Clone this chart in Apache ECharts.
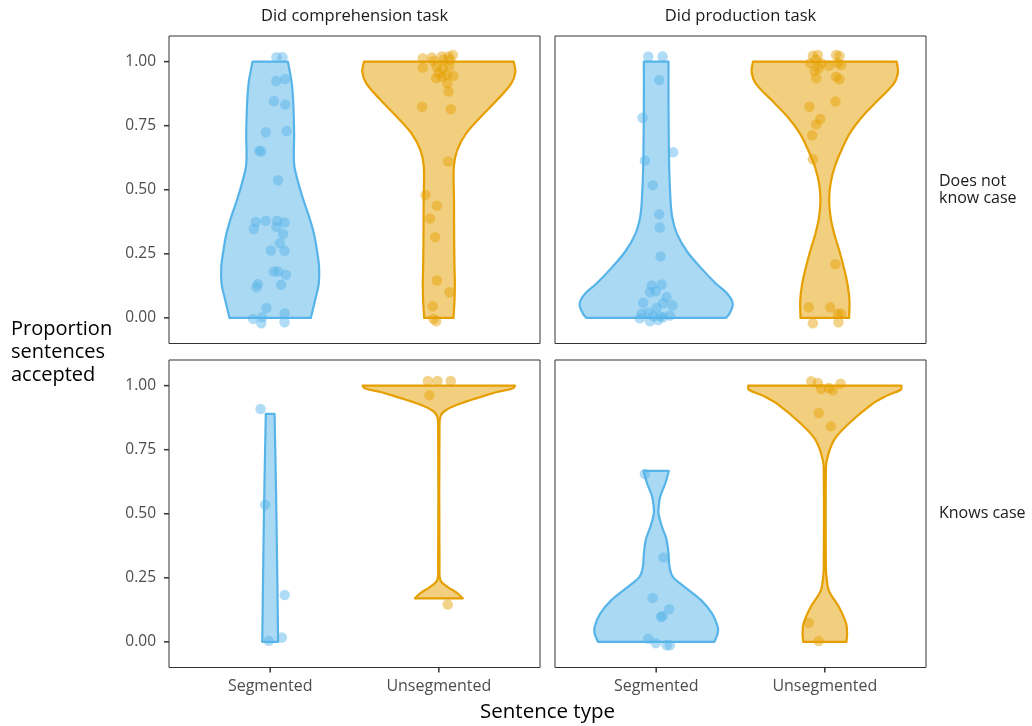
<!DOCTYPE html>
<html>
<head>
<meta charset="utf-8">
<script src="https://cdn.jsdelivr.net/npm/echarts@6/dist/echarts.min.js"></script>
<style>
  html, body { margin: 0; padding: 0; background: #ffffff; }
  #chart { width: 1032px; height: 726px; }
</style>
</head>
<body>
<div id="chart"></div>
<script>
// ---------------- DATA ----------------
const categories = ['Segmented', 'Unsegmented'];
const categoryPositions = [1, 2];
const yTicks = [0, 0.25, 0.5, 0.75, 1];
const columnLabels = ['Did comprehension task', 'Did production task'];
const rowLabels = ['Does not\nknow case', 'Knows case'];
const xTitle = 'Sentence type';
const yTitle = 'Proportion\nsentences\naccepted';

// Violin outlines: [proportion, half-width in category units]
const violinCompNoCaseSeg = [[1.00,0.105],[0.92,0.127],[0.85,0.136],[0.72,0.142],[0.60,0.142],[0.524,0.168],[0.46,0.197],[0.394,0.231],[0.33,0.259],[0.26,0.278],[0.198,0.290],[0.133,0.288],[0.068,0.266],[0.00,0.241]];
const violinCompNoCaseUnseg = [[1.00,0.444],[0.96,0.454],[0.915,0.430],[0.85,0.345],[0.785,0.249],[0.72,0.162],[0.655,0.109],[0.59,0.089],[0.46,0.090],[0.30,0.091],[0.198,0.093],[0.133,0.095],[0.068,0.093],[0.00,0.087]];
const violinProdNoCaseSeg = [[1.00,0.073],[0.85,0.073],[0.59,0.077],[0.46,0.085],[0.394,0.095],[0.33,0.122],[0.26,0.182],[0.198,0.261],[0.133,0.355],[0.094,0.422],[0.055,0.454],[0.016,0.434],[0.00,0.414]];
const violinProdNoCaseUnseg = [[1.00,0.426],[0.96,0.434],[0.915,0.410],[0.85,0.316],[0.785,0.221],[0.72,0.148],[0.655,0.099],[0.59,0.059],[0.524,0.034],[0.46,0.026],[0.394,0.034],[0.33,0.055],[0.26,0.087],[0.198,0.112],[0.133,0.134],[0.068,0.146],[0.00,0.144]];
const violinCompCaseSeg = [[0.89,0.026],[0.50,0.037],[0.00,0.047]];
const violinCompCaseUnseg = [[1.00,0.452],[0.99,0.440],[0.975,0.345],[0.96,0.268],[0.926,0.111],[0.90,0.032],[0.88,0.010],[0.85,0.004],[0.30,0.004],[0.24,0.010],[0.215,0.051],[0.19,0.109],[0.17,0.142]];
const violinProdCaseSeg = [[0.667,0.075],[0.62,0.055],[0.567,0.024],[0.528,0.015],[0.50,0.014],[0.45,0.034],[0.40,0.061],[0.345,0.073],[0.293,0.079],[0.254,0.099],[0.215,0.168],[0.163,0.266],[0.11,0.332],[0.059,0.365],[0.033,0.365],[0.00,0.345]];
const violinProdCaseUnseg = [[1.00,0.454],[0.985,0.452],[0.96,0.365],[0.93,0.284],[0.854,0.146],[0.79,0.057],[0.71,0.012],[0.65,0.006],[0.30,0.006],[0.267,0.008],[0.20,0.024],[0.137,0.083],[0.072,0.126],[0.033,0.132],[0.00,0.128]];

// Jittered participant points: [jittered category position, proportion]
const pointsCompNoCaseSeg = [[1.037,1.017],[1.073,1.017],[1.036,0.924],[1.089,0.932],[1.022,0.846],[1.089,0.833],[0.974,0.724],[1.097,0.729],[0.935,0.652],[0.947,0.649],[1.047,0.537],[0.915,0.374],[0.974,0.379],[1.041,0.379],[1.085,0.372],[0.903,0.347],[1.037,0.355],[1.077,0.327],[1.057,0.291],[1.004,0.263],[1.085,0.262],[1.022,0.181],[1.047,0.181],[1.093,0.168],[0.927,0.132],[0.919,0.120],[1.065,0.129],[0.978,0.039],[1.086,0.018],[0.899,-0.004],[0.953,0.002],[0.947,-0.021],[1.085,-0.017]];
const pointsCompNoCaseUnseg = [[1.905,1.013],[1.959,1.016],[2.018,1.020],[2.057,1.020],[2.083,1.026],[1.968,1.003],[2.027,1.007],[2.067,1.007],[1.905,0.977],[1.988,0.980],[2.024,0.974],[2.063,0.984],[1.984,0.935],[2.018,0.941],[2.047,0.948],[2.086,0.945],[1.998,0.955],[2.051,0.915],[2.057,0.883],[1.901,0.824],[2.071,0.814],[2.055,0.610],[1.921,0.480],[1.988,0.438],[1.948,0.388],[1.978,0.315],[1.988,0.146],[2.063,0.100],[1.964,0.045],[1.968,-0.004],[1.984,-0.013]];
const pointsProdNoCaseSeg = [[0.953,1.020],[1.038,1.020],[1.018,0.928],[0.919,0.781],[1.101,0.646],[0.933,0.614],[0.979,0.518],[1.018,0.404],[1.022,0.353],[1.026,0.240],[0.973,0.126],[1.032,0.130],[0.963,0.100],[0.998,0.104],[0.923,0.059],[1.062,0.081],[1.041,0.057],[1.097,0.048],[1.002,0.039],[0.914,0.016],[0.953,0.020],[0.982,0.006],[1.022,0.006],[1.041,0.002],[1.081,0.009],[0.963,-0.013],[1.012,-0.008],[0.903,-0.002]];
const pointsProdNoCaseUnseg = [[1.929,1.023],[1.959,1.026],[2.067,1.026],[2.087,1.022],[1.914,0.994],[1.949,1.007],[1.979,0.994],[2.024,0.984],[2.077,0.994],[2.097,0.987],[1.939,0.964],[1.964,0.974],[1.949,0.935],[2.067,0.941],[2.087,0.931],[1.909,0.824],[2.063,0.844],[1.973,0.776],[1.949,0.755],[1.925,0.713],[1.929,0.619],[2.063,0.209],[1.905,0.041],[2.032,0.041],[2.077,0.016],[2.097,0.016],[1.929,-0.021],[2.081,-0.017]];
const pointsCompCaseSeg = [[0.943,0.909],[0.970,0.535],[1.086,0.183],[0.992,0.004],[1.069,0.017]];
const pointsCompCaseUnseg = [[1.935,1.018],[1.992,1.018],[2.071,1.018],[1.944,0.962],[2.053,0.146]];
const pointsProdCaseSeg = [[0.933,0.655],[1.044,0.329],[0.979,0.171],[1.077,0.127],[1.038,0.101],[1.028,0.097],[0.953,0.012],[0.998,-0.005],[1.062,-0.013],[1.081,-0.013]];
const pointsProdCaseUnseg = [[1.919,1.017],[1.959,1.010],[1.979,0.987],[2.024,0.991],[2.047,0.982],[2.093,1.007],[1.964,0.893],[2.036,0.841],[1.905,0.074],[1.964,0.003]];

// ---------------- STYLE / LAYOUT ----------------
const COLORS = ['#56B4E9', '#E69F00'];
const FILLS = ['rgba(86,180,233,0.5)', 'rgba(230,159,0,0.5)'];
const POINT_FILLS = ['rgba(86,180,233,0.58)', 'rgba(230,159,0,0.58)'];
const FONT = '"Open Sans", "Noto Sans", "DejaVu Sans", sans-serif';
const INK = '#333333';
const TICK_LEN = 5;

const X_MIN = 0.4, X_MAX = 2.6, Y_MIN = -0.1, Y_MAX = 1.1;
const panelLefts = [169, 555];
const panelTops = [36, 360];
const panelW = 371, panelH = 307.5;

const panels = [
  { row: 0, col: 0, violins: [violinCompNoCaseSeg, violinCompNoCaseUnseg], points: [pointsCompNoCaseSeg, pointsCompNoCaseUnseg] },
  { row: 0, col: 1, violins: [violinProdNoCaseSeg, violinProdNoCaseUnseg], points: [pointsProdNoCaseSeg, pointsProdNoCaseUnseg] },
  { row: 1, col: 0, violins: [violinCompCaseSeg, violinCompCaseUnseg], points: [pointsCompCaseSeg, pointsCompCaseUnseg] },
  { row: 1, col: 1, violins: [violinProdCaseSeg, violinProdCaseUnseg], points: [pointsProdCaseSeg, pointsProdCaseUnseg] }
];

const grids = [], xAxes = [], yAxes = [], series = [];

panels.forEach((p, i) => {
  grids.push({
    left: panelLefts[p.col], top: panelTops[p.row], width: panelW, height: panelH,
    show: true, borderColor: INK, borderWidth: 1, backgroundColor: 'transparent'
  });
  const isBottom = p.row === 1, isLeft = p.col === 0;
  xAxes.push({
    type: 'value', gridIndex: i, min: X_MIN, max: X_MAX, position: 'bottom',
    axisLine: { show: false, onZero: false },
    splitLine: { show: false },
    axisTick: { show: false },
    axisLabel: { show: isBottom, customValues: categoryPositions, margin: 11,
      formatter: v => categories[Math.round(v) - 1] || '',
      color: '#4D4D4D', fontSize: 16, fontFamily: FONT }
  });
  yAxes.push({
    type: 'value', gridIndex: i, min: Y_MIN, max: Y_MAX, position: 'left',
    axisLine: { show: false, onZero: false },
    splitLine: { show: false },
    axisTick: { show: false },
    axisLabel: { show: isLeft, customValues: yTicks, margin: 13,
      formatter: v => v.toFixed(2),
      color: '#4D4D4D', fontSize: 15.5, fontFamily: FONT }
  });

  p.violins.forEach((profile, c) => {
    const cat = categoryPositions[c];
    series.push({
      type: 'custom', xAxisIndex: i, yAxisIndex: i, z: 2, silent: true,
      data: [[cat, profile[0][0]]],
      renderItem: (params, api) => {
        const right = profile.map(d => api.coord([cat + d[1], d[0]]));
        const left = profile.slice().reverse().map(d => api.coord([cat - d[1], d[0]]));
        // duplicate end points of each side so the flat top/bottom stay sharp
        const pts = [right[0]].concat(right, [right[right.length - 1]], [left[0]], left, [left[left.length - 1]]);
        return {
          type: 'polygon',
          shape: { points: pts, smooth: 0.35 },
          style: { fill: FILLS[c], stroke: COLORS[c], lineWidth: 2.2, lineJoin: 'round' }
        };
      }
    });
  });
  p.points.forEach((pts, c) => {
    series.push({
      type: 'scatter', xAxisIndex: i, yAxisIndex: i, z: 3, silent: true,
      symbol: 'circle', symbolSize: 10.5,
      itemStyle: { color: POINT_FILLS[c], borderWidth: 0 },
      data: pts
    });
  });
});

const graphics = [];
columnLabels.forEach((t, k) => {
  graphics.push({ type: 'text', x: panelLefts[k] + panelW / 2, y: 16,
    style: { text: t, fill: '#1A1A1A', fontSize: 16.5, fontFamily: FONT, align: 'center', verticalAlign: 'middle' } });
});
rowLabels.forEach((t, k) => {
  graphics.push({ type: 'text', x: 939, y: panelTops[k] + panelH / 2,
    style: { text: t, fill: '#1A1A1A', fontSize: 16, lineHeight: 17, fontFamily: FONT, align: 'left', verticalAlign: 'middle' } });
});
graphics.push({ type: 'text', x: 11, y: 352,
  style: { text: yTitle, fill: '#000000', fontSize: 20, lineHeight: 23, fontFamily: FONT, align: 'left', verticalAlign: 'middle' } });
graphics.push({ type: 'text', x: (panelLefts[0] + panelLefts[1] + panelW) / 2, y: 712,
  style: { text: xTitle, fill: '#000000', fontSize: 20.5, fontFamily: FONT, align: 'center', verticalAlign: 'middle' } });

const chart = echarts.init(document.getElementById('chart'), null, { renderer: 'canvas' });
chart.setOption({
  backgroundColor: '#ffffff',
  animation: false,
  grid: grids, xAxis: xAxes, yAxis: yAxes, series: series,
  graphic: graphics
});

// Axis ticks: positions come from each panel's own scale via convertToPixel
const tickGraphics = [];
panels.forEach((p, i) => {
  if (p.col === 0) {
    yTicks.forEach(v => {
      const pt = chart.convertToPixel({ gridIndex: i }, [X_MIN, v]);
      tickGraphics.push({ type: 'line', z: 100, silent: true,
        shape: { x1: pt[0] - TICK_LEN, y1: pt[1], x2: pt[0], y2: pt[1] },
        style: { stroke: INK, lineWidth: 1.5 } });
    });
  }
  if (p.row === 1) {
    categoryPositions.forEach(v => {
      const pt = chart.convertToPixel({ gridIndex: i }, [v, Y_MIN]);
      tickGraphics.push({ type: 'line', z: 100, silent: true,
        shape: { x1: pt[0], y1: pt[1], x2: pt[0], y2: pt[1] + TICK_LEN },
        style: { stroke: INK, lineWidth: 1.5 } });
    });
  }
});
chart.setOption({ graphic: graphics.concat(tickGraphics) });
</script>
</body>
</html>
